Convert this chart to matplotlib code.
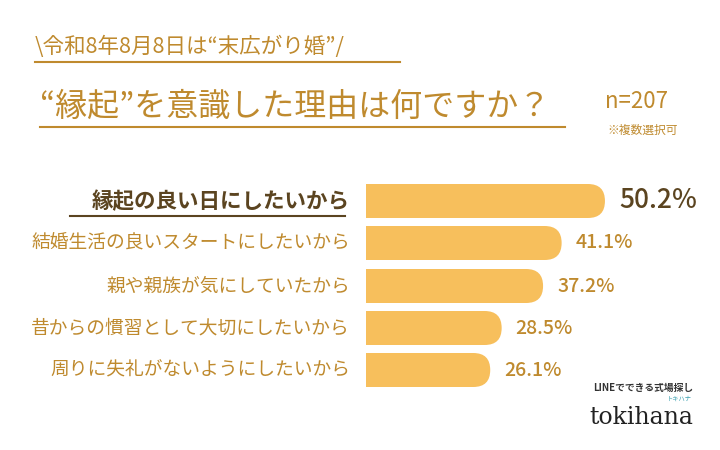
import matplotlib
matplotlib.use("Agg")
import matplotlib.pyplot as plt
from matplotlib.patches import FancyBboxPatch, Rectangle

plt.rcParams['font.family'] = ['Noto Sans CJK JP', 'DejaVu Sans']

categories = ["縁起の良い日にしたいから", "結婚生活の良いスタートにしたいから", "親や親族が気にしていたから",
              "昔からの慣習として大切にしたいから", "周りに失礼がないようにしたいから"]
values = [50.2, 41.1, 37.2, 28.5, 26.1]
labels = ["50.2%", "41.1%", "37.2%", "28.5%", "26.1%"]

gold = "#BF8A2E"
dark = "#5B4420"
barc = "#F7BF5C"

fig = plt.figure(figsize=(7.2, 4.5), dpi=100)
ax = fig.add_axes([0, 0, 1, 1])
ax.set_xlim(0, 720); ax.set_ylim(450, 0); ax.axis('off')

x0 = 366; scale = 4.76; h = 34
ys = [201, 243, 286, 328, 370]
for i, (v, l) in enumerate(zip(values, labels)):
    y = ys[i]
    w = v * scale
    ax.add_patch(FancyBboxPatch((x0 - 30, y - h / 2), w + 30, h,
                                boxstyle="round,pad=0,rounding_size=17", fc=barc, ec="none"))
    first = i == 0
    ax.text(x0 + w + 14, y, l, ha='left', va='center', fontsize=19 if first else 14,
            color=dark if first else gold, fontweight='medium')
ax.add_patch(Rectangle((300, 150), 66, 250, fc="white", ec="none"))
for i, c in enumerate(categories):
    first = i == 0
    ax.text(350, ys[i], c, ha='right', va='center', fontsize=15.5 if first else 13.5,
            color=dark if first else gold, fontweight='bold' if first else 'normal')
ax.plot([70, 345], [216, 216], color=dark, lw=1.5)

ax.text(35, 47, "\\令和8年8月8日は“末広がり婚”/", fontsize=15.5, color=gold, va='center')
ax.plot([35, 400], [62, 62], color=gold, lw=1.5)
ax.text(40, 107, "“縁起”を意識した理由は何ですか？", fontsize=23, color=gold, va='center')
ax.plot([40, 565], [127, 127], color=gold, lw=1.5)
ax.text(605, 102, "n=207", fontsize=16, color=gold, va='center')
ax.text(607, 130, "※複数選択可", fontsize=8.5, color=gold, va='center')

ax.text(693, 388, "LINEでできる式場探し", fontsize=7, color="#333333", ha='right', va='center', fontweight='bold')
ax.text(692, 399, "トキハナ", fontsize=4.5, color="#3aa0b0", ha='right', va='center')
ax.text(693, 417, "tokihana", fontsize=17, color="#222222", ha='right', va='center', family='DejaVu Serif')

fig.savefig("out.png", dpi=100, facecolor="white")
